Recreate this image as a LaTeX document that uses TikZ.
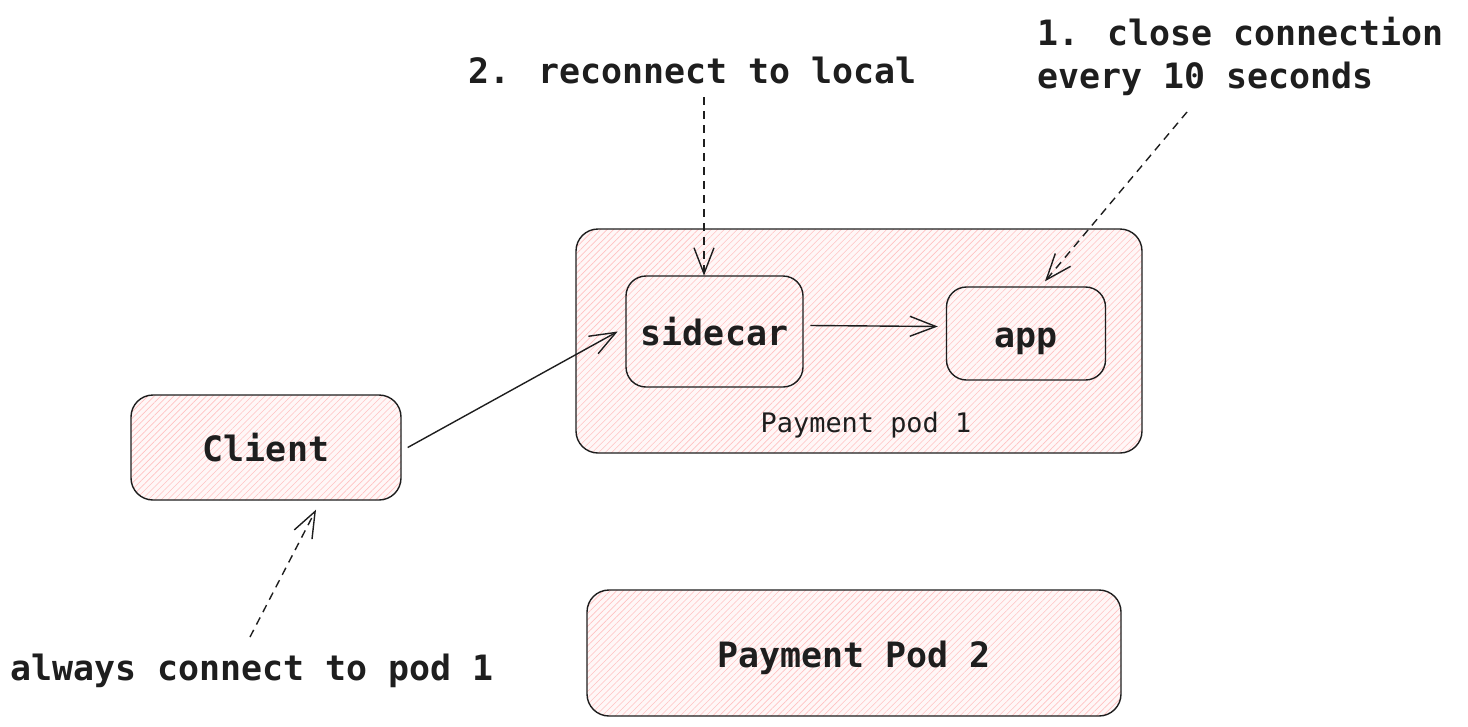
\documentclass[tikz,border=0pt]{standalone}
\usepackage{fontspec}
\newfontfamily\mono{DejaVu Sans Mono}
\usetikzlibrary{arrows.meta,patterns.meta,calc}
\definecolor{ink}{HTML}{1E1E1E}
\definecolor{hatch}{HTML}{FFC2C2}
\definecolor{pinkbg}{HTML}{FFF7F7}
\begin{document}
\begin{tikzpicture}[x=1pt,y=-1pt,
  txt/.style={font=\mono\bfseries\fontsize{34.9}{43}\selectfont, text=ink, inner sep=0pt},
  box/.style={txt, draw=ink, line width=1.4pt, rounded corners=22pt,
    text height=30pt, text depth=2pt,
    preaction={fill=pinkbg},
    pattern={Lines[angle=45,distance=4.6pt,line width=0.6pt]}, pattern color=hatch},
  inbox/.style={box, rounded corners=20pt, preaction={},
    pattern={Lines[angle=45,distance=4.6pt,line width=0.6pt,xshift=2.3pt]}},
  conn/.style={draw=ink, line width=1.4pt, -{Straight Barb[length=26pt,width=20pt]}},
  dconn/.style={conn, dash pattern=on 8pt off 6pt}]
\useasboundingbox (0,0) rectangle (1468,726);

% boxes
\node[box, minimum width=566pt, minimum height=224pt] (pod1) at (859,341) {};
\node[box, minimum width=534pt, minimum height=126pt] (pod2) at (854,653) {Payment Pod 2};
\node[box, minimum width=270pt, minimum height=105pt] (client) at (266,447.5) {Client};
\node[inbox, minimum width=177pt, minimum height=111pt] (sidecar) at (714.5,331.5) {sidecar};
\node[inbox, minimum width=159pt, minimum height=93pt] (app) at (1026,333.5) {app};
\node[txt, font=\mono\mdseries\fontsize{26.9}{32}\selectfont, anchor=base] (p1lbl) at (866,432) {Payment pod 1};

% labels
\node[txt, anchor=base] (l2) at (692.5,83) {2. reconnect to local};
\node[txt, anchor=base west, align=left] (l1) at (1037,88) {1. close connection\\every 10 seconds};
\node[txt, anchor=base west] (l3) at (10,680) {always connect to pod 1};

% free ends
\coordinate (r0) at (704,97);
\coordinate (c0) at (1187,112);
\coordinate (a0) at (250,637);

% connectors
\draw[conn] ($(client.east)+(6,0)$) -- ($(sidecar.west)+(-8,0)$);
\draw[conn] ([xshift=7pt,yshift=6pt]sidecar.east) -- ([xshift=-8pt,yshift=7pt]app.west);
\draw[dconn] (r0) -- (sidecar.north -| r0);
\draw[dconn] (c0) -- ($(app.north)+(19,-5)$);
\draw[dconn] (a0) -- ($(client.south)+(50,9)$);
\end{tikzpicture}
\end{document}
